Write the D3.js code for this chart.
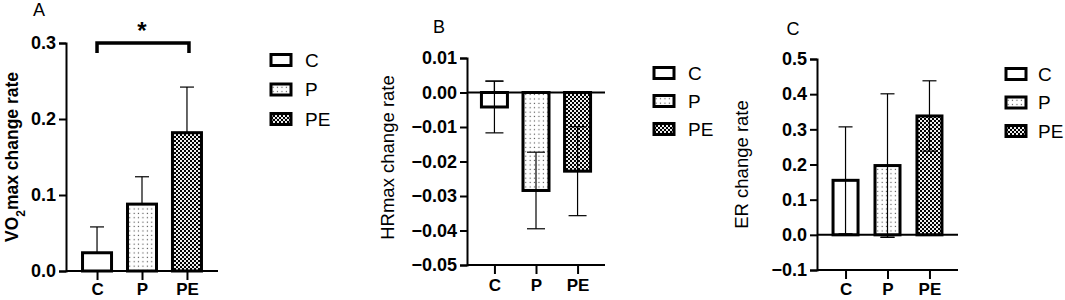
<!DOCTYPE html>
<html>
<head>
<meta charset="utf-8">
<script src="https://cdn.jsdelivr.net/npm/d3@7"></script>
<style>
  body { margin: 0; background: #fff; }
  text { font-family: "Liberation Sans", Arial, sans-serif; fill: #000; }
</style>
</head>
<body>
<div id="chart"></div>
<script>
// Data
const groups = ['C', 'P', 'PE'];
const vo2Means = [0.024, 0.088, 0.182];
const vo2Sd = [0.034, 0.036, 0.060];
const hrMeans = [-0.0042, -0.0284, -0.0228];
const hrSd = [0.0075, 0.0111, 0.0129];
const erMeans = [0.155, 0.197, 0.338];
const erSd = [0.152, 0.204, 0.100];
const vo2Ticks = [0, 0.1, 0.2, 0.3];
const hrTicks = [0.01, 0, -0.01, -0.02, -0.03, -0.04, -0.05];
const erTicks = [-0.1, 0, 0.1, 0.2, 0.3, 0.4, 0.5];

const svg = d3.select('#chart').append('svg')
  .attr('width', 1065)
  .attr('height', 300);

// Fill patterns for the groups
const defs = svg.append('defs');
const dots = defs.append('pattern')
  .attr('id', 'dots')
  .attr('patternUnits', 'userSpaceOnUse')
  .attr('width', 4.4).attr('height', 4.4);
dots.append('rect').attr('width', 4.4).attr('height', 4.4).attr('fill', '#fff');
dots.append('rect').attr('x', 1.6).attr('y', 1.6).attr('width', 1.1).attr('height', 1.1).attr('fill', '#444');

const checks = defs.append('pattern')
  .attr('id', 'checks')
  .attr('patternUnits', 'userSpaceOnUse')
  .attr('width', 4).attr('height', 4);
checks.append('rect').attr('width', 4).attr('height', 4).attr('fill', '#000');
checks.append('rect').attr('x', 0).attr('y', 0).attr('width', 2).attr('height', 2).attr('fill', '#eee');
checks.append('rect').attr('x', 2).attr('y', 2).attr('width', 2).attr('height', 2).attr('fill', '#eee');

const fills = { C: '#fff', P: 'url(#dots)', PE: 'url(#checks)' };

function drawPanel(opt) {
  const g = svg.append('g');
  const x = d3.scalePoint().domain(groups).range(opt.xRange).padding(opt.pad);
  const y = d3.scaleLinear().domain(opt.yDomain).range(opt.yRange);
  const data = groups.map((k, i) => ({ key: k, mean: opt.means[i], sd: opt.sd[i] }));
  const bw = opt.barWidth;

  // error bars (behind bars)
  const err = g.append('g').attr('stroke', '#000').attr('stroke-width', 1.2);
  data.forEach(d => {
    const cx = x(d.key);
    const hi = d.mean >= 0 ? d.mean + d.sd : d.mean - d.sd;
    const ends = opt.twoSided ? [d.mean + d.sd, d.mean - d.sd] : [hi];
    const lo = opt.twoSided ? d.mean - d.sd : d.mean;
    err.append('line')
      .attr('x1', cx).attr('x2', cx)
      .attr('y1', y(opt.twoSided ? d.mean + d.sd : hi)).attr('y2', y(lo));
    ends.forEach(v => {
      err.append('line')
        .attr('x1', cx - opt.cap / 2).attr('x2', cx + opt.cap / 2)
        .attr('y1', y(v)).attr('y2', y(v));
    });
  });

  // bars
  g.selectAll('.bar')
    .data(data)
    .enter()
    .append('rect')
    .attr('class', 'bar')
    .attr('x', d => x(d.key) - bw / 2)
    .attr('width', bw)
    .attr('y', d => y(Math.max(0, d.mean)))
    .attr('height', d => Math.abs(y(d.mean) - y(0)))
    .attr('fill', d => fills[d.key])
    .attr('stroke', '#000')
    .attr('stroke-width', 3);

  // redraw the part of error bars that sits inside the bar (two-sided)
  if (opt.twoSided) {
    const inner = g.append('g').attr('stroke', '#000').attr('stroke-width', 1.2);
    data.forEach(d => {
      const cx = x(d.key);
      const v = d.mean >= 0 ? d.mean - d.sd : d.mean + d.sd;
      inner.append('line').attr('x1', cx).attr('x2', cx)
        .attr('y1', y(d.mean)).attr('y2', y(v));
      inner.append('line')
        .attr('x1', cx - opt.cap / 2).attr('x2', cx + opt.cap / 2)
        .attr('y1', y(v)).attr('y2', y(v));
    });
  }

  // y axis
  const yAxis = g.append('g')
    .attr('transform', `translate(${opt.xRange[0]},0)`)
    .call(d3.axisLeft(y).tickValues(opt.ticks).tickFormat(opt.fmt).tickSizeOuter(0).tickSize(7).tickPadding(3));
  yAxis.select('.domain').attr('stroke-width', 2);
  yAxis.selectAll('.tick line').attr('stroke-width', 2);
  yAxis.selectAll('text').style('font-size', '18px').style('font-weight', 'bold');

  // x axis at the bottom of the y range
  const xAxis = g.append('g')
    .attr('transform', `translate(0,${opt.yRange[0]})`)
    .call(d3.axisBottom(x).tickSize(9).tickSizeOuter(0));
  xAxis.select('.domain').attr('stroke-width', 2).attr('d', `M${opt.xRange[0]},0H${opt.xRange[1]}`);
  xAxis.selectAll('.tick line').attr('stroke-width', 2);
  xAxis.selectAll('text')
    .attr('y', opt.xLabelOffset).attr('dy', null)
    .style('font-size', '17px').style('font-weight', 'bold');

  // zero line when domain crosses zero
  if (opt.yDomain[0] < 0) {
    g.append('line')
      .attr('x1', opt.xRange[0]).attr('x2', opt.xRange[1])
      .attr('y1', y(0)).attr('y2', y(0))
      .attr('stroke', '#000').attr('stroke-width', 2);
  }

  // y label
  const yl = g.append('text')
    .attr('transform', `translate(${opt.labelX},${(opt.yRange[0] + opt.yRange[1]) / 2 + (opt.labelShift || 0)}) rotate(-90)`)
    .attr('text-anchor', 'middle')
    .attr('dy', '0.35em')
    .style('font-size', opt.labelBold ? '17.5px' : '18.5px')
    .style('font-weight', opt.labelBold ? 'bold' : 'normal');
  opt.label(yl);

  // panel letter
  g.append('text')
    .attr('x', opt.letter[0]).attr('y', opt.letter[1])
    .attr('text-anchor', 'middle').attr('dy', '0.35em')
    .style('font-size', '18px')
    .text(opt.letterText);

  // legend
  const lg = g.append('g').attr('transform', `translate(${opt.legend[0]},${opt.legend[1]})`);
  groups.forEach((k, i) => {
    const row = lg.append('g').attr('transform', `translate(0,${i * opt.legendStep})`);
    row.append('rect')
      .attr('x', 0).attr('y', -5.5).attr('width', 20).attr('height', 11)
      .attr('fill', fills[k]).attr('stroke', '#000').attr('stroke-width', 3);
    row.append('text')
      .attr('x', opt.legendGap || 34).attr('y', 0).attr('dy', '0.36em')
      .style('font-size', '19px')
      .text(k);
  });
  return { x, y, g };
}

// Panel A
const pA = drawPanel({
  xRange: [66, 218], pad: 0.69, barWidth: 29,
  yDomain: [0, 0.3], yRange: [271, 43],
  means: vo2Means, sd: vo2Sd, twoSided: false, cap: 14,
  ticks: vo2Ticks, fmt: d3.format('.1f'), xLabelOffset: 24,
  labelX: 12, labelBold: true, labelShift: 0,
  label: t => {
    t.append('tspan').text('VO');
    t.append('tspan').attr('baseline-shift', 'sub').style('font-size', '12px').text('2');
    t.append('tspan').text('max change rate');
  },
  letter: [39, 10], letterText: 'A',
  legend: [271, 60], legendStep: 29.5
});

// significance bracket between C and PE
const bracketY = pA.y(0.3);
pA.g.append('path')
  .attr('d', `M${pA.x('C')},${bracketY + 10}V${bracketY}H${pA.x('PE') + 2}V${bracketY + 10}`)
  .attr('fill', 'none').attr('stroke', '#000').attr('stroke-width', 3.5);
pA.g.append('text')
  .attr('x', pA.x('P')).attr('y', bracketY - 4)
  .attr('text-anchor', 'middle')
  .style('font-size', '24px').style('font-weight', 'bold')
  .text('*');

// Panel B
drawPanel({
  xRange: [467, 605], pad: 0.66, barWidth: 26,
  yDomain: [-0.05, 0.01], yRange: [265, 58],
  means: hrMeans, sd: hrSd, twoSided: true, cap: 18,
  ticks: hrTicks, fmt: d3.format('.2f'), xLabelOffset: 26,
  labelX: 388, labelBold: false, labelShift: -4,
  label: t => t.text('HRmax change rate'),
  letter: [439, 27], letterText: 'B',
  legend: [654, 73], legendStep: 28
});

// Panel C
drawPanel({
  xRange: [817, 958], pad: 0.68, barWidth: 25,
  yDomain: [-0.1, 0.5], yRange: [270, 59],
  means: erMeans, sd: erSd, twoSided: true, cap: 14,
  ticks: erTicks, fmt: d3.format('.1f'), xLabelOffset: 25,
  labelX: 742, labelBold: false, labelShift: 0,
  label: t => t.text('ER change rate'),
  letter: [793, 29], letterText: 'C',
  legend: [1006, 74], legendStep: 28.5, legendGap: 32
});
</script>
</body>
</html>
